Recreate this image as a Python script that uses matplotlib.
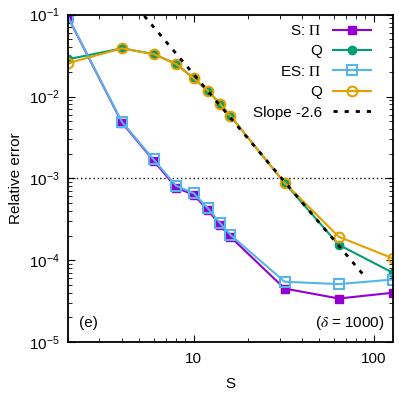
import numpy as np
import matplotlib
matplotlib.use("Agg")
import matplotlib.pyplot as plt

plt.rcParams['font.family'] = ['Liberation Sans', 'DejaVu Sans']
plt.rcParams['mathtext.fontset'] = 'stix'
plt.rcParams['axes.unicode_minus'] = False

# data
S = [2, 4, 6, 8, 10, 12, 14, 16, 32, 64, 128]
s_pi = [0.095, 4.8e-3, 1.65e-3, 7.7e-4, 6.3e-4, 4.1e-4, 2.7e-4, 1.93e-4, 4.5e-5, 3.4e-5, 4.0e-5]
s_q = [0.0285, 0.0388, 0.0330, 0.0250, 0.0167, 0.0117, 8.2e-3, 5.8e-3, 8.8e-4, 1.54e-4, 7.0e-5]
es_pi = [0.095, 4.9e-3, 1.7e-3, 8.1e-4, 6.6e-4, 4.3e-4, 2.86e-4, 2.04e-4, 5.45e-5, 5.1e-5, 5.8e-5]
es_q = [0.0255, 0.0388, 0.0330, 0.0250, 0.0167, 0.0117, 8.2e-3, 5.8e-3, 8.8e-4, 1.93e-4, 1.05e-4]
slope = -2.6
slope_coef = 7.45
slope_S = [4, 90]

fs = 11

fig = plt.figure(figsize=(3.99, 3.93), dpi=100)
ax = fig.add_axes([0.1697, 0.1298, 0.985 - 0.1697, 0.9626 - 0.1298])

ax.axhline(1e-3, color='black', lw=1.0, ls=(0, (1, 2)), zorder=1)

ax.plot(S, s_pi, color='#9400D3', lw=1.5, marker='s', ms=6, label=r'S: $\Pi$')
ax.plot(S, s_q, color='#009E73', lw=1.5, marker='o', ms=6, label='Q')
ax.plot(S, es_pi, color='#56B4E9', lw=1.5, marker='s', ms=6.5, mfc='none', mew=1.5, label=r'ES: $\Pi$')
ax.plot(S, es_q, color='#E69F00', lw=1.5, marker='o', ms=7, mfc='none', mew=1.5, label='Q')
sx = np.array(slope_S, dtype=float)
ax.plot(sx, slope_coef * sx ** slope, color='black', lw=2, ls=(0, (1.5, 2.5)), label='Slope -2.6')

ax.set_xscale('log')
ax.set_yscale('log')
ax.set_xlim(2, 128)
ax.set_ylim(1e-5, 1e-1)
ax.set_xticks([10, 100])
ax.set_xticklabels(['10', '100'])
ax.tick_params(which='both', direction='in', top=True, right=True, labelsize=fs)
ax.tick_params(which='major', length=5)
ax.tick_params(which='minor', length=3)
ax.tick_params(axis='x', pad=7)
ax.tick_params(axis='y', pad=6)
for sp in ax.spines.values():
    sp.set_linewidth(1.3)

ax.set_xlabel('S', fontsize=fs, labelpad=8)
ax.set_ylabel('Relative error', fontsize=fs, labelpad=4)

ax.text(0.035, 0.045, '(e)', transform=ax.transAxes, fontsize=fs)
ax.text(0.975, 0.045, r'($\delta$ = 1000)', transform=ax.transAxes, fontsize=fs, ha='right')

ax.legend(loc='upper right', bbox_to_anchor=(0.962, 1.0), frameon=False, markerfirst=False,
          fontsize=11, handlelength=2.5, handletextpad=0.75, labelspacing=0.42,
          borderaxespad=0.2)

fig.savefig('out.png', dpi=100)
